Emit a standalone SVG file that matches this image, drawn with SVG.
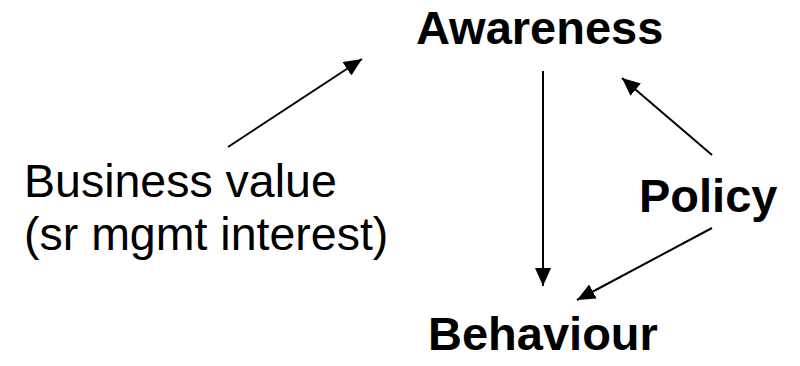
<svg xmlns="http://www.w3.org/2000/svg" width="800" height="366" viewBox="0 0 800 366">
  <style>
    .lbl { font-family: "Liberation Sans", Arial, sans-serif; font-size: 46.5px; fill: #000; }
    .bold { font-weight: bold; font-size: 47px; }
    .conn { stroke: #000; stroke-width: 2; fill: none; marker-end: url(#head); }
  </style>
  <defs>
    <marker id="head" markerUnits="userSpaceOnUse" markerWidth="20" markerHeight="16" refX="18" refY="8" orient="auto">
      <path d="M0,0 L18,8 L0,16 Z" fill="#000"/>
    </marker>
  </defs>
  <rect width="800" height="366" fill="#fff"/>

  <g id="connectors">
    <line class="conn" x1="228" y1="147" x2="362" y2="59"/>
    <line class="conn" x1="543" y1="71" x2="543" y2="286"/>
    <line class="conn" x1="712" y1="155" x2="622" y2="78"/>
    <line class="conn" x1="712" y1="228" x2="577" y2="300"/>
  </g>

  <g id="awareness">
    <text class="lbl bold" x="416" y="44">Awareness</text>
  </g>
  <g id="business-value">
    <text class="lbl" x="24" y="197">Business value</text>
    <text class="lbl" x="24" y="250">(sr mgmt interest)</text>
  </g>
  <g id="policy">
    <text class="lbl bold" x="639" y="212">Policy</text>
  </g>
  <g id="behaviour">
    <text class="lbl bold" x="428" y="350">Behaviour</text>
  </g>
</svg>
